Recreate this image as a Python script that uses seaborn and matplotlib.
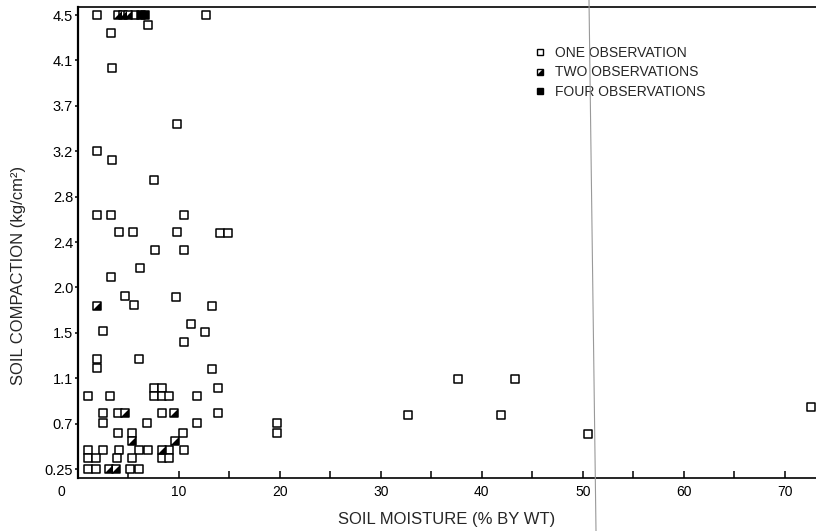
import pandas as pd
import matplotlib
matplotlib.use('Agg')
import matplotlib.pyplot as plt
import seaborn as sns
from matplotlib.lines import Line2D
from matplotlib.markers import MarkerStyle
from matplotlib.legend_handler import HandlerTuple
from matplotlib.transforms import ScaledTranslation

# Soil moisture (% by wt) vs soil compaction (kg/cm2)
one_moisture = [1.9, 5.6, 6.9, 12.7, 3.3, 3.4, 9.8, 1.9, 3.4, 7.5,
                1.85, 3.3, 10.5, 4.1, 5.4, 9.8, 14.1, 14.9,
                7.6, 10.5, 6.1, 3.3, 4.7, 5.5, 9.7, 13.3,
                2.5, 11.2, 12.6, 10.5, 1.9, 1.9, 6.0, 13.3,
                1.0, 3.2, 7.5, 8.3, 7.5, 8.3, 9.0, 11.8, 13.9,
                2.5, 2.5, 4.0, 6.8, 8.3, 11.8, 13.9,
                4.0, 5.3, 10.4,
                1.0, 2.5, 4.1, 6.0, 6.9, 9.0, 10.5,
                1.0, 1.8, 3.9, 5.3, 8.3, 9.0,
                1.0, 1.8, 5.2, 6.0,
                19.7, 19.7, 37.6, 43.3, 32.7, 41.9, 50.5, 72.6]
one_compaction = [4.5, 4.5, 4.41, 4.5, 4.33, 4.0, 3.48, 3.23, 3.14, 2.96,
                  2.63, 2.63, 2.63, 2.47, 2.47, 2.47, 2.46, 2.46,
                  2.30, 2.30, 2.13, 2.05, 1.87, 1.79, 1.86, 1.78,
                  1.54, 1.61, 1.53, 1.44, 1.28, 1.20, 1.28, 1.19,
                  0.93, 0.93, 1.01, 1.01, 0.93, 0.93, 0.93, 0.93, 1.01,
                  0.77, 0.68, 0.77, 0.68, 0.77, 0.68, 0.77,
                  0.59, 0.59, 0.59,
                  0.43, 0.43, 0.43, 0.43, 0.43, 0.43, 0.43,
                  0.35, 0.35, 0.35, 0.35, 0.35, 0.35,
                  0.25, 0.25, 0.25, 0.25,
                  0.68, 0.59, 1.09, 1.09, 0.76, 0.76, 0.58, 0.83]

two_moisture = [4.0, 4.5, 5.0, 1.85, 4.7, 9.5, 5.3, 9.6, 8.3, 3.1, 3.8]
two_compaction = [4.5, 4.5, 4.5, 1.78, 0.77, 0.77, 0.51, 0.51, 0.43, 0.25, 0.25]

four_moisture = [6.2, 6.6]
four_compaction = [4.5, 4.5]

y_ticks = [0.25, 0.675, 1.1, 1.525, 1.95, 2.375, 2.8, 3.225, 3.65, 4.075, 4.5]
y_tick_labels = ['0.25', '0.7', '1.1', '1.5', '2.0', '2.4', '2.8', '3.2', '3.7', '4.1', '4.5']
x_ticks = [0, 5, 10, 15, 20, 25, 30, 35, 40, 45, 50, 55, 60, 65, 70]
x_tick_labels = ['0', '', '10', '', '20', '', '30', '', '40', '', '50', '', '60', '', '70']
legend_labels = ['ONE OBSERVATION', 'TWO OBSERVATIONS', 'FOUR OBSERVATIONS']

df = pd.concat([
    pd.DataFrame({'moisture': one_moisture, 'compaction': one_compaction, 'obs': 'one'}),
    pd.DataFrame({'moisture': two_moisture, 'compaction': two_compaction, 'obs': 'two'}),
    pd.DataFrame({'moisture': four_moisture, 'compaction': four_compaction, 'obs': 'four'}),
], ignore_index=True)

sns.set_style('ticks')
plt.rcParams['font.family'] = ['Liberation Sans', 'DejaVu Sans']

fig = plt.figure(figsize=(8.16, 5.31), dpi=100)
ax = fig.add_axes([78 / 816, 53 / 531, 738 / 816, 471 / 531])

# half-black marker: lower right triangle of the square
tri = MarkerStyle([(-1, -1), (1, -1), (1, 1)])
msize = 30

sns.scatterplot(data=df[df['obs'] != 'four'], x='moisture', y='compaction',
                marker='s', s=msize, facecolor='white', edgecolor='black',
                linewidth=1.1, ax=ax, zorder=3)
sns.scatterplot(data=df[df['obs'] == 'two'], x='moisture', y='compaction',
                marker=tri, s=msize, color='black', linewidth=0, ax=ax, zorder=4)
sns.scatterplot(data=df[df['obs'] == 'four'], x='moisture', y='compaction',
                marker='s', s=msize, facecolor='black', edgecolor='black',
                linewidth=1.1, ax=ax, zorder=4)

ax.set_xlim(0, 73.1)
ax.set_ylim(0.166, 4.575)

ax.set_xticks(x_ticks)
ax.set_xticklabels(x_tick_labels)
ax.set_yticks(y_ticks)
ax.set_yticklabels(y_tick_labels)
ax.tick_params(axis='x', direction='in', length=5, width=1.1, pad=5,
               labelsize=10, colors='black')
ax.tick_params(axis='y', direction='out', length=2.5, width=1.1, pad=1,
               labelsize=10.5, colors='black')

# the "0" sits left of the corner in the original
zero = ax.get_xticklabels()[0]
zero.set_transform(zero.get_transform() + ScaledTranslation(-12 / 72, 0, fig.dpi_scale_trans))

for side in ['left', 'bottom', 'top']:
    ax.spines[side].set_color('black')
ax.spines['left'].set_linewidth(1.6)
ax.spines['bottom'].set_linewidth(1.2)
ax.spines['top'].set_linewidth(1.2)
ax.spines['right'].set_visible(False)

ax.set_xlabel('SOIL MOISTURE (% BY WT)', fontsize=12)
ax.set_ylabel('SOIL COMPACTION (kg/cm²)', fontsize=12)
ax.xaxis.set_label_coords(0.5, -0.072)
ax.yaxis.set_label_coords(-0.07, 0.431)

h_one = Line2D([], [], ls='none', marker='s', ms=5, mfc='white', mec='black', mew=1)
h_two_sq = Line2D([], [], ls='none', marker='s', ms=5, mfc='white', mec='black', mew=1)
h_two_tri = Line2D([], [], ls='none', marker=tri, ms=5, mfc='black', mec='none', mew=0)
h_four = Line2D([], [], ls='none', marker='s', ms=5, mfc='black', mec='black', mew=1)
ax.legend([h_one, (h_two_sq, h_two_tri), h_four], legend_labels,
          handler_map={tuple: HandlerTuple(ndivide=1)},
          frameon=False, loc='upper left', bbox_to_anchor=(0.62, 0.917),
          fontsize=10, handlelength=0.7, handletextpad=0.7,
          labelspacing=0.38, borderaxespad=0, borderpad=0)

# faint scanner line running down the page
fig.add_artist(Line2D([589 / 816, 596 / 816], [1, 0], color='0.6', lw=0.8))

fig.savefig('out.png', dpi=100)
